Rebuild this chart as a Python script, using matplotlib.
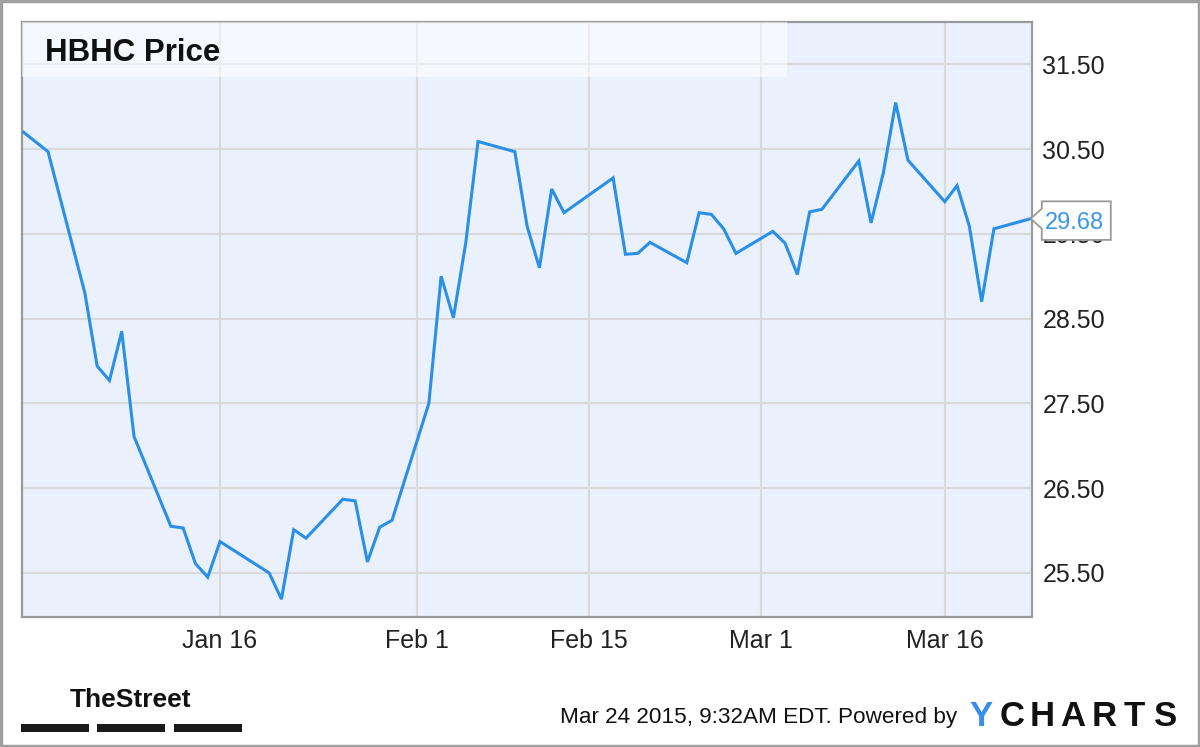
import datetime as dt
import matplotlib
matplotlib.use('Agg')
import matplotlib.pyplot as plt
import matplotlib.dates as mdates
import matplotlib.transforms as mtransforms
from matplotlib.patches import Rectangle, Polygon

## HBHC daily close
dates = ['2014-12-31', '2015-01-02', '2015-01-05', '2015-01-06', '2015-01-07',
         '2015-01-08', '2015-01-09', '2015-01-12', '2015-01-13', '2015-01-14',
         '2015-01-15', '2015-01-16', '2015-01-20', '2015-01-21', '2015-01-22',
         '2015-01-23', '2015-01-26', '2015-01-27', '2015-01-28', '2015-01-29',
         '2015-01-30', '2015-02-02', '2015-02-03', '2015-02-04', '2015-02-05',
         '2015-02-06', '2015-02-09', '2015-02-10', '2015-02-11', '2015-02-12',
         '2015-02-13', '2015-02-17', '2015-02-18', '2015-02-19', '2015-02-20',
         '2015-02-23', '2015-02-24', '2015-02-25', '2015-02-26', '2015-02-27',
         '2015-03-02', '2015-03-03', '2015-03-04', '2015-03-05', '2015-03-06',
         '2015-03-09', '2015-03-10', '2015-03-11', '2015-03-12', '2015-03-13',
         '2015-03-16', '2015-03-17', '2015-03-18', '2015-03-19', '2015-03-20',
         '2015-03-23']
prices = [30.70, 30.47, 28.80, 27.94, 27.77,
          28.35, 27.11, 26.05, 26.03, 25.61,
          25.45, 25.87, 25.50, 25.19, 26.01,
          25.91, 26.37, 26.35, 25.63, 26.04,
          26.12, 27.50, 29.00, 28.51, 29.39,
          30.59, 30.47, 29.59, 29.10, 30.03,
          29.75, 30.16, 29.26, 29.27, 29.40,
          29.16, 29.75, 29.73, 29.56, 29.27,
          29.53, 29.39, 29.02, 29.76, 29.79,
          30.36, 29.63, 30.22, 31.05, 30.37,
          29.88, 30.07, 29.59, 28.70, 29.56,
          29.68]

y_ticks = [25.5, 26.5, 27.5, 28.5, 29.5, 30.5, 31.5]
x_tick_dates = ['2015-01-16', '2015-02-01', '2015-02-15', '2015-03-01', '2015-03-16']
x_tick_labels = ['Jan 16', 'Feb 1', 'Feb 15', 'Mar 1', 'Mar 16']
last_label = '29.68'

LINE = '#2a8fe6'
BG = '#eaf1fc'
GRID = '#d9d9d9'
FONT = ['Liberation Sans', 'DejaVu Sans']

x = [dt.datetime.strptime(d, '%Y-%m-%d') for d in dates]
xt = [dt.datetime.strptime(d, '%Y-%m-%d') for d in x_tick_dates]

plt.rcParams['font.family'] = FONT

fig = plt.figure(figsize=(12, 7.47), dpi=100)
ax = fig.add_axes([22 / 1200, 130 / 747, 1010 / 1200, 595 / 747])
ax.set_facecolor(BG)

ax.plot(x, prices, color=LINE, lw=2.2, zorder=4, solid_joinstyle='miter')

jan16 = mdates.date2num(dt.datetime(2015, 1, 16))
ax.set_xlim(jan16 - 16.12, jan16 + 66.1)
ax.set_ylim(24.98, 32.0)

ax.set_xticks(xt)
ax.set_xticklabels(x_tick_labels)
ax.set_yticks(y_ticks)
ax.set_yticklabels(['%.2f' % v for v in y_ticks])
ax.yaxis.tick_right()
ax.tick_params(axis='both', length=0, labelsize=18, labelcolor='#222222')
ax.tick_params(axis='x', pad=9)
ax.tick_params(axis='y', pad=7.5)
ax.grid(True, color=GRID, lw=1.5, zorder=1)
ax.set_axisbelow(True)
for s in ax.spines.values():
    s.set_color('#9a9a9a')
    s.set_linewidth(1.6)

## translucent title strip
ax.add_patch(Rectangle((0, 1 - 55 / 595), 765 / 1010, 55 / 595, transform=ax.transAxes,
                       facecolor='white', alpha=0.55, edgecolor='none', zorder=3))
ax.text(23 / 1010, 1 - 39 / 595, 'HBHC Price', transform=ax.transAxes, fontsize=22.5,
        fontweight='bold', color='#111111', va='baseline', ha='left', zorder=5)

## last value callout
anchor = mtransforms.ScaledTranslation(mdates.date2num(x[-1]), prices[-1], ax.transData)
tr = fig.dpi_scale_trans + anchor
callout = Polygon([(0, 0), (0.11, 0.10), (0.11, 0.173), (0.80, 0.173), (0.80, -0.213),
                   (0.11, -0.213), (0.11, -0.10)], closed=True, transform=tr,
                  facecolor='white', edgecolor='#999999', lw=1.3, clip_on=False, zorder=6)
ax.add_patch(callout)
ax.annotate(last_label, (x[-1], prices[-1]), xytext=(44, -4), textcoords='offset pixels',
            ha='center', va='center', fontsize=17, color='#3a95ea', zorder=7,
            annotation_clip=False)

## footer
fig.text(560 / 1200, 1 - 718 / 747, 'Mar 24 2015, 9:32AM EDT. Powered by', fontsize=16.2,
         color='#111111', ha='left', va='center')
letters = 'YCHARTS'
for i, ch in enumerate(letters):
    fig.text((981 + i * 30.7) / 1200, 1 - 716 / 747, ch, fontsize=25, fontweight='bold',
             color='#3a8ee6' if i == 0 else '#111111', ha='center', va='center')

fig.text(131 / 1200, 1 - 700 / 747, 'TheStreet',
         family=['Liberation Sans Narrow', 'Liberation Sans'], fontsize=19,
         fontweight='bold', color='#111111', ha='center', va='center')
for x0, x1 in [(21, 89), (97, 165), (174, 242)]:
    fig.add_artist(Rectangle((x0 / 1200, 1 - 732 / 747), (x1 - x0) / 1200, 8 / 747,
                             transform=fig.transFigure, facecolor='#1a1a1a', edgecolor='none'))

## outer frame
fig.add_artist(Rectangle((0.001, 0.002), 0.998, 0.996, transform=fig.transFigure,
                         facecolor='none', edgecolor='#a0a0a0', lw=2.5))

fig.savefig('out.png', dpi=100)
